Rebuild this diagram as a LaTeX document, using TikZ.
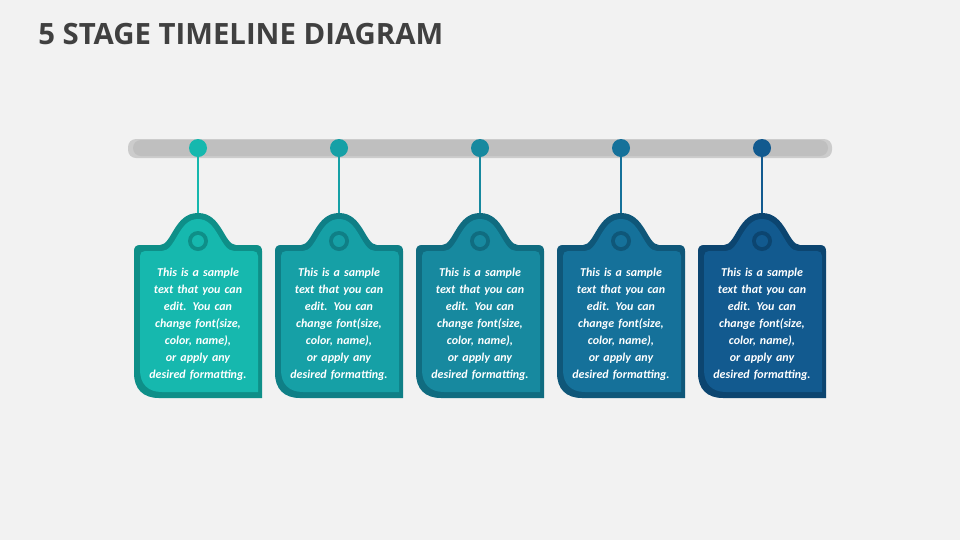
\documentclass[tikz,border=0pt]{standalone}
\usepackage{fontspec}
\setmainfont{Carlito}
\newfontfamily\titlefont{Open Sans}
\definecolor{bg}{HTML}{F2F2F2}
\definecolor{bar}{HTML}{BFBFBF}
\definecolor{ttl}{HTML}{404040}
\definecolor{cA}{HTML}{16B8AE}\definecolor{dA}{HTML}{0E8F88}
\definecolor{cB}{HTML}{16A0A6}\definecolor{dB}{HTML}{0F7F86}
\definecolor{cC}{HTML}{17899F}\definecolor{dC}{HTML}{106C80}
\definecolor{cD}{HTML}{15719A}\definecolor{dD}{HTML}{0F5779}
\definecolor{cE}{HTML}{125A8F}\definecolor{dE}{HTML}{0C4570}
\tikzset{
  dot/.style={circle,inner sep=0pt,minimum size=13.5pt},
  body/.style={text=white,font=\bfseries\itshape\fontsize{9}{12.75}\selectfont,align=center,text width=78pt},
  stem/.style={line width=1.6pt}
}
\begin{document}
\begin{tikzpicture}[x=0.75pt,y=-0.75pt]
\fill[bg] (0,0) rectangle (960,540);
\useasboundingbox (0,0) rectangle (960,540);
\node[anchor=west,font=\titlefont\bfseries\fontsize{22}{26}\selectfont,text=ttl,inner sep=0pt] (title) at (38,34) {5 STAGE TIMELINE DIAGRAM};
\fill[gray!40,rounded corners=6pt] (128,139) rectangle (832,158);
\fill[bar,rounded corners=6pt] (133,140) rectangle (828,156);
\foreach \cx/\c/\d/\i in {198/cA/dA/1,339/cB/dB/2,480/cC/dC/3,621/cD/dD/4,762/cE/dE/5}{
  \begin{scope}[shift={(\cx,0)}]
  \coordinate (t\i) at (0,228);
  \node[dot,fill=\c] (d\i) at (0,148) {};
  \draw[stem,\c] (d\i) -- (t\i);
  \fill[\d] (-58,245) -- (-38,245) .. controls (-26,245) and (-24,213) .. (0,213)
     .. controls (24,213) and (26,245) .. (38,245) -- (58,245)
     .. controls (62,245) and (64,247) .. (64,251) -- (64,398) -- (-39,398)
     .. controls (-55,398) and (-64,389) .. (-64,373) -- (-64,251)
     .. controls (-64,247) and (-62,245) .. (-58,245) -- cycle;
  \fill[\c] (-53,251) -- (-36,251) .. controls (-22,251) and (-20,219) .. (0,219)
     .. controls (20,219) and (22,251) .. (36,251) -- (55,251)
     .. controls (58,251) and (60,253) .. (60,256) -- (60,392) -- (-36,392)
     .. controls (-50,392) and (-58,384) .. (-58,370) -- (-58,256)
     .. controls (-58,253) and (-56,251) .. (-53,251) -- cycle;
  \fill[\d] (0,241) circle[radius=10];
  \fill[\c] (0,241) circle[radius=6];
  \node[body] (b\i) at (0,324) {This is a sample text that you can edit. You can change font(size, color, name), or apply any desired formatting.};
  \end{scope}
}
\end{tikzpicture}
\end{document}
